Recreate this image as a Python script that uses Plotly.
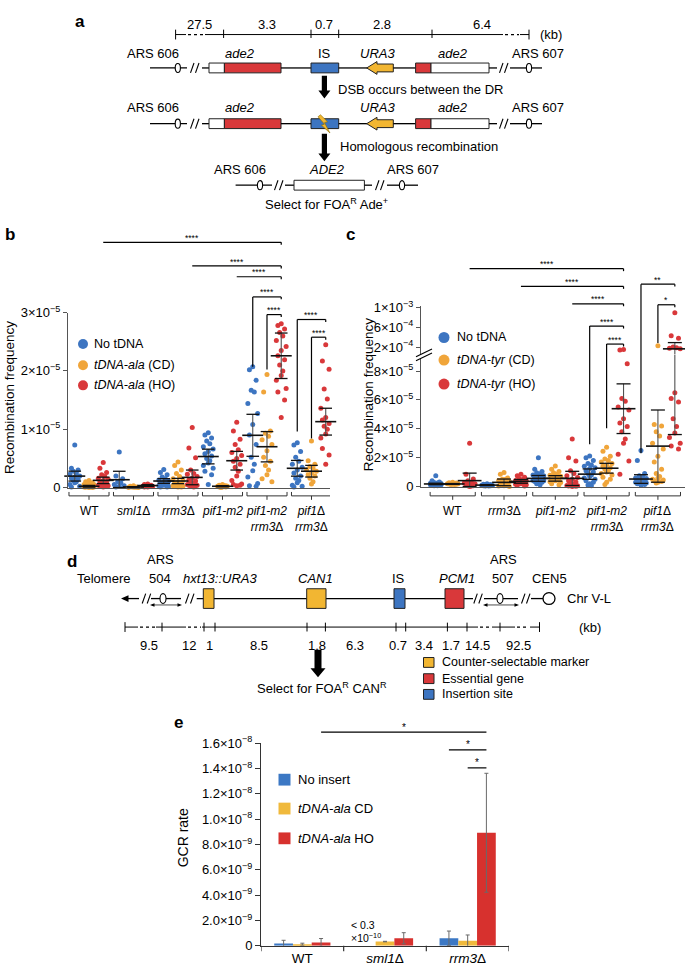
import plotly.graph_objects as go

# ======================= DATA =======================
# Panel b: recombination frequency (units of 1e-6), one list per genotype group
B_GROUPS = ["WT", "<i>sml1</i>Δ", "<i>rrm3</i>Δ", "<i>pif1-m2</i>",
            "<i>pif1-m2</i><br><i>rrm3</i>Δ", "<i>pif1</i>Δ<br><i>rrm3</i>Δ"]
B_SERIES = ["No tDNA", "<i>tDNA-ala</i> (CD)", "<i>tDNA-ala</i> (HO)"]
b_no = [
    [7.3, 3.3, 3.0, 2.8, 2.5, 2.3, 2.0, 1.8, 1.6, 1.4, 1.2, 1.0, 0.8, 0.5, 0.2, 0.1],
    [6.1, 2.0, 1.5, 1.0, 0.8, 0.5, 0.3, 0.2, 0.1],
    [3.1, 2.6, 2.2, 1.8, 1.5, 1.3, 1.1, 1.0, 0.8, 0.7, 0.6, 0.5, 0.4, 0.3, 0.2, 0.1, 0.1],
    [9.4, 9.0, 8.5, 8.0, 7.5, 7.0, 6.6, 6.2, 5.8, 5.4, 5.0, 4.6, 4.2, 3.8, 3.3, 2.8, 2.2, 0.5],
    [20.7, 20.2, 18.4, 16.7, 16.4, 14.4, 12.7, 10.8, 9.0, 7.4, 5.2, 4.0, 2.9, 1.8, 0.7, 0.3, 0.2],
    [7.7, 7.3, 6.2, 5.2, 4.5, 4.0, 3.5, 3.0, 2.5, 2.0, 1.6, 1.2, 0.8, 0.4, 0.2, 0.1],
]
b_cd = [
    [1.2, 1.0, 0.8, 0.7, 0.6, 0.5, 0.5, 0.4, 0.3, 0.3, 0.3, 0.2, 0.2, 0.1, 0.1, 0.05, 0.0, 0.0],
    [0.3, 0.2, 0.1, 0.1, 0.05, 0.0, 0.0, 0.1],
    [4.4, 3.8, 3.0, 2.4, 1.9, 1.5, 1.2, 1.0, 0.8, 0.6, 0.5, 0.4, 0.3, 0.3, 0.2, 0.2, 0.1, 0.1],
    [0.5, 0.4, 0.3, 0.3, 0.2, 0.2, 0.2, 0.1, 0.1, 0.1, 0.0, 0.3],
    [19.4, 16.4, 9.7, 9.3, 8.8, 8.2, 7.4, 6.3, 5.2, 4.5, 3.8, 3.0, 2.2, 1.5, 1.0],
    [8.0, 4.6, 4.0, 3.6, 3.3, 3.0, 2.8, 2.5, 2.2, 2.0, 1.6, 1.0, 0.6],
]
b_ho = [
    [4.3, 3.3, 2.6, 2.2, 1.9, 1.6, 1.4, 1.2, 1.0, 0.8, 0.6, 0.5, 0.5, 0.4, 0.3, 0.3, 0.2, 0.1],
    [0.6, 0.5, 0.4, 0.3, 0.3, 0.2, 0.2, 0.1, 0.1],
    [10.3, 6.8, 5.1, 3.0, 2.4, 2.3, 1.9, 1.6, 1.3, 1.1, 0.9, 0.7, 0.6, 0.5, 0.4, 0.4, 0.3, 0.2, 0.2, 0.1],
    [11.2, 9.7, 8.3, 7.4, 6.5, 6.0, 5.5, 5.0, 4.5, 4.0, 3.5, 2.8, 2.0, 1.2, 0.6, 0.5, 0.4, 0.3],
    [28.1, 27.8, 27.2, 26.6, 26.0, 25.2, 24.2, 23.5, 22.6, 21.9, 21.0, 20.0, 19.2, 18.4, 17.0, 16.4, 15.0, 12.0],
    [24.5, 21.7, 20.3, 16.9, 15.2, 13.6, 12.8, 12.0, 11.6, 11.0, 10.5, 10.0, 9.2, 8.5, 7.5, 6.7, 5.6, 4.0],
]
b_mean_no = [1.96, 1.34, 1.12, 5.32, 8.96, 3.3]
b_err_no = [0.85, 1.45, 0.4, 1.26, 3.6, 1.35]
b_mean_cd = [0.22, 0.10, 1.12, 0.22, 7.0, 2.8]
b_err_cd = [0.15, 0.05, 0.45, 0.1, 2.6, 1.0]
b_mean_ho = [1.23, 0.34, 1.74, 4.6, 22.6, 11.3]
b_err_ho = [0.55, 0.15, 1.26, 1.6, 3.9, 2.3]

# Panel c: recombination frequency (units of 1e-6)
C_GROUPS = ["WT", "<i>rrm3</i>Δ", "<i>pif1-m2</i>",
            "<i>pif1-m2</i><br><i>rrm3</i>Δ", "<i>pif1</i>Δ<br><i>rrm3</i>Δ"]
C_SERIES = ["No tDNA", "<i>tDNA-tyr</i> (CD)", "<i>tDNA-tyr</i> (HO)"]
c_no = [
    [7.5, 4.0, 3.2, 2.8, 2.5, 2.3, 2.1, 2.0, 1.8, 1.7, 1.6, 1.5, 1.4, 1.3, 1.2, 1.0, 0.9, 0.8, 0.6, 0.5],
    [2.0, 1.6, 1.4, 1.2, 1.0, 0.9, 0.8, 0.7, 0.6, 0.5, 0.4, 0.3],
    [20.0, 12.0, 10.5, 9.5, 8.8, 8.0, 7.5, 7.0, 6.5, 6.0, 5.6, 5.2, 4.8, 4.4, 4.0, 3.5, 3.0, 2.5, 2.0, 1.2],
    [21.1, 20.0, 18.0, 16.0, 15.0, 14.0, 13.0, 12.5, 11.0, 10.0, 9.0, 8.0, 7.0, 6.0, 5.0, 4.0, 3.0, 2.0, 1.0, 0.5],
    [25.0, 18.0, 9.0, 7.5, 6.5, 6.0, 5.5, 5.0, 4.5, 4.2, 4.0, 3.8, 3.5, 3.0, 2.5, 2.0, 1.5, 1.0],
]
c_cd = [
    [3.0, 2.6, 2.4, 2.2, 2.1, 2.0, 1.9, 1.8, 1.7, 1.6, 1.5, 1.4],
    [9.8, 8.6, 6.0, 5.0, 5.0, 4.2, 3.5, 3.0, 2.5, 2.0, 1.5, 1.0, 0.6, 0.3, 0.1],
    [14.3, 12.0, 10.5, 9.5, 8.5, 7.8, 7.2, 6.6, 6.0, 5.5, 5.0, 4.5, 4.0, 3.4, 2.8, 2.0, 1.2],
    [27.2, 24.5, 21.0, 19.0, 18.0, 17.0, 16.0, 15.0, 14.0, 13.0, 12.0, 11.0, 10.0, 9.0, 8.0, 6.5, 5.0, 3.0, 1.5],
    [226.0, 43.0, 42.0, 38.0, 35.0, 30.0, 26.0, 21.0, 17.0, 12.0, 9.0, 7.0, 6.0, 5.0, 4.5, 4.0, 3.5, 3.0, 2.5],
]
c_ho = [
    [30.0, 8.6, 5.2, 4.0, 3.0, 2.5, 2.0, 1.5, 1.2, 0.6, 0.5, 0.3, 0.1],
    [8.6, 7.5, 6.4, 5.5, 4.8, 4.2, 4.0, 3.6, 3.2, 3.0, 2.8, 2.4, 2.0, 1.6, 1.2, 0.8, 0.4],
    [33.0, 20.0, 17.7, 11.0, 9.0, 7.5, 6.2, 5.0, 4.0, 3.2, 2.5, 1.8, 1.2, 0.8, 0.5, 0.3, 0.2, 0.1],
    [150.0, 140.0, 85.0, 61.0, 59.0, 55.0, 53.0, 47.0, 44.0, 41.5, 38.0, 33.0, 30.0, 22.4, 17.7, 8.6],
    [900.0, 430.0, 380.0, 200.0, 185.0, 175.0, 165.0, 65.0, 61.0, 58.5, 47.0, 41.5, 37.0, 34.0, 30.0, 28.0, 26.0],
]
c_mean_no = [1.8, 1.0, 5.65, 8.6, 5.2]
c_err_no = [0.5, 0.3, 2.0, 3.6, 3.0]
c_mean_cd = [1.8, 2.9, 5.65, 12.7, 28.0]
c_err_cd = [0.3, 2.3, 1.9, 3.4, 25.0]
c_mean_ho = [4.1, 3.6, 5.65, 53.9, 163.0]
c_err_ho = [5.2, 1.3, 4.9, 17.2, 127.0]

# Panel e: GCR rate (units of 1e-9)
E_GROUPS = ["WT", "<i>sml1</i>Δ", "<i>rrm3</i>Δ"]
E_SERIES = ["No insert", "<i>tDNA-ala</i> CD", "<i>tDNA-ala</i> HO"]
e_no = [0.18, None, 0.59]
e_no_err = [0.25, 0.0, 0.57]
e_cd = [0.12, 0.33, 0.39]
e_cd_err = [0.08, 0.02, 0.46]
e_ho = [0.26, 0.59, 8.93]
e_ho_err = [0.31, 0.44, 4.70]

# ======================= STYLE / HELPERS =======================
W, H = 685, 978
FONT = "Liberation Sans, Arial, Helvetica, sans-serif"
BLUE = "#3D75C1"
ORANGE = "#F0A53A"
RED = "#D9383A"
YEL = "#F2B632"
BAR_COL = ["#3C78C4", "#F0B93C", "#D7312E"]
U6 = 1e-6
U9 = 1e-9

def X(px):
    return px / W

def Y(py):
    return 1 - py / H

shapes, ann = [], []

def L(x0, y0, x1, y1, w=1.3, c="black", dash="solid", xref="paper"):
    if xref == "paper":
        x0, x1 = X(x0), X(x1)
    shapes.append(dict(type="line", xref=xref, yref="paper", x0=x0, y0=Y(y0), x1=x1, y1=Y(y1),
                       line=dict(color=c, width=w, dash=dash)))

def R(x0, y0, x1, y1, fill, lw=1, lc="#222"):
    shapes.append(dict(type="rect", xref="paper", yref="paper", x0=X(x0), y0=Y(y0), x1=X(x1), y1=Y(y1),
                       fillcolor=fill, line=dict(color=lc, width=lw)))

def E(cx, cy, rx, ry, fill="white", lw=1.1):
    shapes.append(dict(type="circle", xref="paper", yref="paper", x0=X(cx - rx), y0=Y(cy + ry),
                       x1=X(cx + rx), y1=Y(cy - ry), fillcolor=fill, line=dict(color="black", width=lw)))

def P(pts, fill, lw=1, lc="#222"):
    d = "M " + " L ".join(f"{X(x):.5f},{Y(y):.5f}" for x, y in pts) + " Z"
    shapes.append(dict(type="path", xref="paper", yref="paper", path=d, fillcolor=fill,
                       line=dict(color=lc, width=lw)))

def T(x, y, s, size=13, xa="center", ya="middle", bold=False, angle=0, xref="paper", color="black"):
    if bold:
        s = f"<b>{s}</b>"
    ann.append(dict(x=X(x) if xref == "paper" else x, y=Y(y), text=s, showarrow=False,
                    xref=xref, yref="paper", xanchor=xa, yanchor=ya, textangle=angle,
                    font=dict(size=size, color=color, family=FONT)))

def slash(cx, cy, h=5):
    L(cx - 4.5, cy + h, cx - 1, cy - h, w=1.1)
    L(cx + 0.5, cy + h, cx + 4, cy - h, w=1.1)

def big_arrow(x, y0, y1, sw=2.6, hw=6, hl=8):
    P([(x - sw, y0), (x + sw, y0), (x + sw, y1 - hl), (x + hw, y1 - hl), (x, y1),
       (x - hw, y1 - hl), (x - sw, y1 - hl)], "black", lw=0)

# ======================= PANEL a (schematic) =======================
T(80, 13, "a", size=17, bold=True)
ya = 26
L(175.6, ya, 186, ya, w=1)
L(188, ya, 204, ya, w=1.2, dash="dot")
L(205, ya, 503, ya, w=1)
L(505, ya, 519, ya, w=1.2, dash="dot")
L(520, ya, 529, ya, w=1)
for tx in [175.6, 529]:
    L(tx, ya - 5, tx, ya + 5, w=1)
for tx in [223.6, 311, 338.7, 432]:
    L(tx, ya - 5, tx, ya + 3.5, w=1)
for lbl, tx in [("27.5", 200), ("3.3", 266.7), ("0.7", 324.4), ("2.8", 382), ("6.4", 482)]:
    T(tx, 15.5, lbl)
T(551, ya, "(kb)")

def row_a(y, bolt=False):
    L(150, y, 187, y)
    E(177.8, y, 2.6, 4.6)
    slash(195, y)
    L(202, y, 209, y)
    R(209, y - 5, 224.4, y + 5, "white")
    R(224.4, y - 5, 281, y + 5, RED)
    L(281, y, 311, y)
    R(311, y - 5, 338.7, y + 5, BLUE)
    L(338.7, y, 367, y)
    P([(366.7, y), (377, y - 6.5), (377, y - 4), (393.3, y - 4), (393.3, y + 4), (377, y + 4), (377, y + 6.5)], YEL)
    L(393.3, y, 415.6, y)
    R(415.6, y - 5, 431, y + 5, RED)
    R(431, y - 5, 489, y + 5, "white")
    L(489, y, 497, y)
    slash(504, y)
    L(510, y, 542, y)
    E(529, y, 2.6, 4.6)
    if bolt:
        P([(320.5, y - 9), (327.5, y - 2), (324.5, y - 1), (330, y + 9.5), (321.5, y + 1.5), (324.5, y + 0.5), (318, y - 7)],
          YEL, lw=0.6, lc="#8a6d00")

y1a, y2a, y3a = 60, 116.7, 179.3
row_a(y1a)
row_a(y2a, bolt=True)
for (lbl, tx, it) in [("ARS 606", 153, False), ("ade2", 240, True), ("IS", 324.4, False),
                      ("URA3", 377.8, True), ("ade2", 453, True), ("ARS 607", 538, False)]:
    T(tx, 45.5, f"<i>{lbl}</i>" if it else lbl)
for (lbl, tx, it) in [("ARS 606", 153, False), ("ade2", 240, True),
                      ("URA3", 377.8, True), ("ade2", 453, True), ("ARS 607", 538, False)]:
    T(tx, 100, f"<i>{lbl}</i>" if it else lbl)
big_arrow(324.4, 68, 91)
T(335.6, 81.5, "DSB occurs between the DR", xa="left")
big_arrow(324.4, 127, 155)
T(337.8, 140, "Homologous recombination", xa="left")
# row 3
L(235.6, y3a, 272, y3a)
E(260, y3a, 2.6, 4.6)
slash(279, y3a)
L(285, y3a, 294, y3a)
R(294, y3a - 5, 364.4, y3a + 5, "white")
L(364.4, y3a, 372, y3a)
slash(380, y3a)
L(387, y3a, 418, y3a)
E(402, y3a, 2.6, 4.6)
T(240, 163.3, "ARS 606")
T(326.7, 163.3, "<i>ADE2</i>")
T(413, 163.3, "ARS 607")
T(326.7, 198.5, "Select for FOA<sup>R</sup> Ade<sup>+</sup>")

# ======================= PANEL d (schematic) =======================
T(72, 562, "d", size=17, bold=True)
yd = 600
L(127, yd, 139, yd)
P([(121, yd), (128.5, yd - 3.5), (128.5, yd + 3.5)], "black", lw=0)
slash(146.7, yd)

def ars_d(cx, xl, xr):
    L(xl, yd, xr, yd)
    E(cx, yd, 3, 5)
    yy = yd + 6.5
    L(xl + 1, yy, xr - 1, yy, w=0.7)
    P([(xl - 1, yy), (xl + 3.5, yy - 1.8), (xl + 3.5, yy + 1.8)], "black", lw=0)
    P([(xr + 1, yy), (xr - 3.5, yy - 1.8), (xr - 3.5, yy + 1.8)], "black", lw=0)

ars_d(163, 151, 181)
slash(190, yd)
L(196.7, yd, 473, yd)
R(203.3, yd - 10, 214, yd + 10, YEL)
R(306.7, yd - 10, 326, yd + 10, YEL)
R(394, yd - 10, 405, yd + 10, BLUE)
R(445, yd - 10, 464, yd + 10, RED)
slash(478.3, yd)
ars_d(500, 484, 518)
slash(526, yd)
L(531, yd, 543, yd)
E(549, yd, 6, 6, lw=1.3)
T(565, yd, "Chr V-L", xa="left")
T(160, 560, "ARS")
T(503, 560, "ARS")
for (lbl, tx, it) in [("Telomere", 103, False), ("504", 160, False), ("hxt13::URA3", 220, True),
                      ("CAN1", 315, True), ("IS", 398, False), ("PCM1", 457, True),
                      ("507", 503, False), ("CEN5", 549, False)]:
    T(tx, 580, f"<i>{lbl}</i>" if it else lbl)
ys = 629
for a0, a1, dsh in [(125, 138, "solid"), (140, 155, "dot"), (156, 186, "solid"), (188, 201, "dot"),
                    (202, 478, "solid"), (480, 491, "dot"), (492, 515, "solid"), (517, 529, "dot"),
                    (530, 539.5, "solid")]:
    L(a0, ys, a1, ys, w=1.2 if dsh == "dot" else 1, dash=dsh)
for tx in [125, 539.5]:
    L(tx, ys - 5, tx, ys + 5, w=1)
for tx in [162, 204, 215, 307, 325.4, 396, 405.7, 447.4, 467, 500]:
    L(tx, ys - 4.5, tx, ys + 4.5, w=1)
T(577, ys, "(kb)", xa="left")
for lbl, tx in [("9.5", 149), ("12", 189), ("1", 209), ("8.5", 259), ("1.8", 317), ("6.3", 355),
                ("0.7", 398), ("3.4", 424), ("1.7", 451), ("14.5", 477), ("92.5", 518)]:
    T(tx, 648, lbl)
big_arrow(318, 652, 680, sw=3.5, hw=7.5, hl=9)
T(322, 691, "Select for FOA<sup>R</sup> CAN<sup>R</sup>")
for (lbl, col, yy) in [("Counter-selectable marker", YEL, 665), ("Essential gene", RED, 681.5),
                       ("Insertion site", BLUE, 697.5)]:
    R(423.5, yy - 5, 434, yy + 5, col)
    T(440, yy, lbl, size=12.5, xa="left")

# ======================= FIGURE / TRACES =======================
fig = go.Figure()

JIT = [0.0, -0.075, 0.075, -0.035, 0.035, -0.11, 0.11, 0.0, -0.075, 0.075,
       -0.035, 0.035, 0.0, -0.11, 0.11, -0.075, 0.075, 0.0, -0.035, 0.035]
COLS = [BLUE, ORANGE, RED]

# ---- panel b ----
OFF_B = [-0.32, 0.0, 0.32]
for s, series in enumerate([b_no, b_cd, b_ho]):
    xs, ys_ = [], []
    for g, vals in enumerate(series):
        for i, v in enumerate(vals):
            xs.append(g + OFF_B[s] + JIT[i % len(JIT)])
            ys_.append(v * U6)
    fig.add_trace(go.Scatter(x=xs, y=ys_, mode="markers", marker=dict(size=5, color=COLS[s]),
                             xaxis="x", yaxis="y", cliponaxis=False, showlegend=False, hoverinfo="skip"))


def summary(xs, means, errs, xa, ya_lo, ya_hi=None, brk=None, up_min=None, mw=16, cw=9):
    seg = {ya_lo: ([], []), ya_hi: ([], [])}
    caps = {ya_lo: ([], []), ya_hi: ([], [])}
    mids = {ya_lo: ([], []), ya_hi: ([], [])}

    def ax(v):
        return ya_hi if (ya_hi is not None and v > brk) else ya_lo
    for x, m, e in zip(xs, means, errs):
        lo, hi = max(m - e, 0.0), m + e
        if ya_hi is None or hi <= brk:
            seg[ya_lo][0].extend([x, x, None]); seg[ya_lo][1].extend([lo, hi, None])
        elif lo > brk:
            seg[ya_hi][0].extend([x, x, None]); seg[ya_hi][1].extend([lo, hi, None])
        else:
            seg[ya_lo][0].extend([x, x, None]); seg[ya_lo][1].extend([lo, brk, None])
            seg[ya_hi][0].extend([x, x, None]); seg[ya_hi][1].extend([up_min, hi, None])
        for v in (lo, hi):
            caps[ax(v)][0].append(x); caps[ax(v)][1].append(v)
        mids[ax(m)][0].append(x); mids[ax(m)][1].append(m)
    for yax in [ya_lo, ya_hi]:
        if yax is None:
            continue
        if seg[yax][0]:
            fig.add_trace(go.Scatter(x=seg[yax][0], y=seg[yax][1], mode="lines",
                                     line=dict(color="#505050", width=1.1), xaxis=xa, yaxis=yax,
                                     cliponaxis=False, showlegend=False, hoverinfo="skip"))
        if caps[yax][0]:
            fig.add_trace(go.Scatter(x=caps[yax][0], y=caps[yax][1], mode="markers",
                                     marker=dict(symbol="line-ew", size=cw, line=dict(width=1.3, color="#111")),
                                     xaxis=xa, yaxis=yax, cliponaxis=False, showlegend=False, hoverinfo="skip"))
        if mids[yax][0]:
            fig.add_trace(go.Scatter(x=mids[yax][0], y=mids[yax][1], mode="markers",
                                     marker=dict(symbol="line-ew", size=mw, line=dict(width=1.6, color="#111")),
                                     xaxis=xa, yaxis=yax, cliponaxis=False, showlegend=False, hoverinfo="skip"))


for s, (mn, er) in enumerate([(b_mean_no, b_err_no), (b_mean_cd, b_err_cd), (b_mean_ho, b_err_ho)]):
    summary([g + OFF_B[s] for g in range(len(mn))], [v * U6 for v in mn], [v * U6 for v in er],
            "x", "y", mw=15, cw=9)

# ---- panel c (broken axis: y2 lower, y4 upper) ----
OFF_C = [-0.33, 0.0, 0.33]
C_LO_TOP = 9.15e-5
C_UP_MIN = 5e-5
for s, series in enumerate([c_no, c_cd, c_ho]):
    lx, ly, ux, uy = [], [], [], []
    for g, vals in enumerate(series):
        for i, v in enumerate(vals):
            xx = g + OFF_C[s] + 0.95 * JIT[i % len(JIT)]
            if v * U6 > C_LO_TOP:
                ux.append(xx); uy.append(v * U6)
            else:
                lx.append(xx); ly.append(v * U6)
    fig.add_trace(go.Scatter(x=lx, y=ly, mode="markers", marker=dict(size=5, color=COLS[s]),
                             xaxis="x2", yaxis="y2", cliponaxis=False, showlegend=False, hoverinfo="skip"))
    if ux:
        fig.add_trace(go.Scatter(x=ux, y=uy, mode="markers", marker=dict(size=5, color=COLS[s]),
                                 xaxis="x2", yaxis="y4", cliponaxis=False, showlegend=False, hoverinfo="skip"))
for s, (mn, er) in enumerate([(c_mean_no, c_err_no), (c_mean_cd, c_err_cd), (c_mean_ho, c_err_ho)]):
    summary([g + OFF_C[s] for g in range(len(mn))], [v * U6 for v in mn], [v * U6 for v in er],
            "x2", "y2", "y4", brk=C_LO_TOP, up_min=C_UP_MIN, mw=17, cw=10)

# ---- panel e (bars) ----
for s, (vals, errs) in enumerate([(e_no, e_no_err), (e_cd, e_cd_err), (e_ho, e_ho_err)]):
    fig.add_trace(go.Bar(x=list(range(len(E_GROUPS))), y=[None if v is None else v * U9 for v in vals],
                         marker=dict(color=BAR_COL[s], line=dict(width=0)),
                         error_y=dict(type="data", array=[e * U9 for e in errs], thickness=1, width=2,
                                      color="#6a6a6a"),
                         xaxis="x3", yaxis="y3", showlegend=False, hoverinfo="skip"))

# ======================= AXES ANNOTATIONS (b) =======================
T(10, 229, "b", size=17, bold=True)
T(9, 396, "Recombination frequency", size=13.5, angle=-90)
for g, lbl in enumerate(B_GROUPS):
    T(g, 502, lbl, size=12, ya="top", xref="x")
    L(g - 0.45, 491.5, g - 0.45, 495.5, w=1, c="#333", xref="x")
    L(g - 0.45, 495.5, g + 0.45, 495.5, w=1, c="#333", xref="x")
    L(g + 0.45, 491.5, g + 0.45, 495.5, w=1, c="#333", xref="x")
    L(g, 495.5, g, 499.5, w=1, c="#333", xref="x")
for (lbl, col, yy) in zip(B_SERIES, COLS, [341, 362.5, 383]):
    shapes.append(dict(type="circle", xref="paper", yref="paper", xsizemode="pixel", ysizemode="pixel",
                       xanchor=X(83), yanchor=Y(yy), x0=-5, x1=5, y0=-5, y1=5, fillcolor=col,
                       line=dict(width=0)))
    T(92, yy, lbl, size=12.5, xa="left")
# significance b: (x_left, x_right, y_line, drop_to, label)
for x0, x1, yl, drop, lbl in [(0.32, 4.32, 237.5, None, "****"), (2.32, 4.32, 261.5, None, "****"),
                               (3.32, 4.32, 272.5, None, "****"), (3.68, 4.32, 293, 364, "****"),
                               (4.0, 4.32, 311, 367, "****"), (4.68, 5.32, 316, 430, "****"),
                               (5.0, 5.32, 334, 437, "****")]:
    L(x0, yl, x1, yl, w=1.2, xref="x")
    L(x1, yl, x1, yl + 2.5, w=1.2, xref="x")
    if drop:
        L(x0, yl, x0, drop, w=1.2, xref="x")
    T((x0 + x1) / 2, yl - 4.5, lbl, size=8.5, xref="x")

# ======================= AXES ANNOTATIONS (c) =======================
T(350, 229, "c", size=17, bold=True)
T(368, 393, "Recombination frequency", size=13.5, angle=-90)
for g, lbl in enumerate(C_GROUPS):
    T(g, 502, lbl, size=12, ya="top", xref="x2")
    L(g - 0.44, 491.5, g - 0.44, 495.5, w=1, c="#333", xref="x2")
    L(g - 0.44, 495.5, g + 0.44, 495.5, w=1, c="#333", xref="x2")
    L(g + 0.44, 491.5, g + 0.44, 495.5, w=1, c="#333", xref="x2")
    L(g, 495.5, g, 499.5, w=1, c="#333", xref="x2")
for (lbl, col, yy) in zip(C_SERIES, COLS, [334.3, 357.3, 381.7]):
    shapes.append(dict(type="circle", xref="paper", yref="paper", xsizemode="pixel", ysizemode="pixel",
                       xanchor=X(444), yanchor=Y(yy), x0=-5.5, x1=5.5, y0=-5.5, y1=5.5, fillcolor=col,
                       line=dict(width=0)))
    T(455, yy, lbl, size=12.5, xa="left")
for x0, x1, yl, drop, lbl in [(0.33, 3.33, 264.3, None, "****"), (1.33, 3.33, 282.3, None, "****"),
                               (2.33, 3.33, 300, None, "****"), (2.67, 3.33, 322.7, 443, "****"),
                               (3.0, 3.33, 341, 426.7, "****"), (3.67, 4.33, 280, 452, "**"),
                               (4.0, 4.33, 301, 340, "*")]:
    L(x0, yl, x1, yl, w=1.2, xref="x2")
    L(x1, yl, x1, yl + 2.5, w=1.2, xref="x2")
    if drop:
        L(x0, yl, x0, drop, w=1.2, xref="x2")
    T((x0 + x1) / 2, yl - 4.5, lbl, size=8.5, xref="x2")
# axis break marks
P([(416, 354), (432, 346), (432, 350), (416, 358)], "white", lw=0)
L(416, 354, 432, 346, w=1.1)
L(416, 358, 432, 350, w=1.1)

# ======================= AXES ANNOTATIONS (e) =======================
T(178, 726, "e", size=17, bold=True)
T(183, 843, "GCR rate", size=14, angle=-90)
for u in [-0.5, 0.5, 1.5, 2.5]:
    L(u, 953.3, u, 959, w=1.2, c="#333", xref="x3")
for (lbl, col, yy) in zip(E_SERIES, BAR_COL, [784.3, 813.7, 844]):
    R(278.5, yy - 6, 290.5, yy + 6, col, lw=0)
    T(296, yy, lbl, size=13, xa="left")
T(349, 932, "< 0.3", size=10.5, xa="left")
T(349, 945, "×10<sup>−10</sup>", size=10.5, xa="left")
for x0, x1, yl in [(0.227, 2.227, 736), (1.773, 2.227, 754), (2.0, 2.227, 772.3)]:
    L(x0, yl, x1, yl, w=1.2, xref="x3")
    T((x0 + x1) / 2, yl - 5, "*", size=10, xref="x3")

# ======================= LAYOUT =======================
axis_common = dict(showgrid=False, zeroline=False, linecolor="#555", linewidth=1,
                   tickfont=dict(family=FONT, size=13, color="black"))
sup = lambda m, e: f"{m}×10<sup>−{e}</sup>"

fig.update_layout(
    width=W, height=H, margin=dict(l=0, r=0, t=0, b=0),
    paper_bgcolor="white", plot_bgcolor="rgba(0,0,0,0)",
    font=dict(family=FONT, color="black"),
    barmode="group", bargap=0.32, bargroupgap=0.0,
    shapes=shapes, annotations=ann,
    xaxis=dict(domain=[X(68), X(330)], range=[-0.472, 5.416], showline=True, ticks="",
               showticklabels=False, anchor="y", **axis_common),
    yaxis=dict(domain=[Y(487), Y(309)], range=[0, 3e-5], showline=True, ticks="outside", ticklen=4,
               tickcolor="#555", tickvals=[0, 1e-5, 2e-5, 3e-5],
               ticktext=["0", sup(1, 5), sup(2, 5), sup(3, 5)], anchor="x", **axis_common),
    xaxis2=dict(domain=[X(421), 1.0], range=[-0.618, 4.528], showline=True, ticks="",
                showticklabels=False, anchor="y2", **axis_common),
    yaxis2=dict(domain=[Y(486), Y(351.5)], range=[0, C_LO_TOP], showline=True, ticks="outside", ticklen=4,
                tickcolor="#555", tickvals=[0, 2e-5, 4e-5, 6e-5, 8e-5],
                ticktext=["0", sup(2, 5), sup(4, 5), sup(6, 5), sup(8, 5)], anchor="x2", **axis_common),
    yaxis4=dict(domain=[Y(351.5), Y(302)], range=[C_UP_MIN, 1.04e-3], showline=True, ticks="outside",
                ticklen=4, tickcolor="#555", tickvals=[2e-4, 6e-4, 1e-3],
                ticktext=[sup(2, 4), sup(6, 4), sup(1, 3)], anchor="x2", **axis_common),
    xaxis3=dict(domain=[X(261), X(509)], range=[-0.5, 2.5], showline=True, ticks="",
                tickvals=[0, 1, 2], ticktext=E_GROUPS, anchor="y3",
                **{**axis_common, "linecolor": "#333", "tickfont": dict(family=FONT, size=13.5, color="black")}),
    yaxis3=dict(domain=[Y(953.3), Y(747.3)], range=[0, 1.6e-8], showline=True, ticks="outside", ticklen=5,
                tickcolor="#333", tickvals=[i * 2e-9 for i in range(9)],
                ticktext=["0"] + [sup(f"{v:.1f}", 9) for v in (2, 4, 6, 8)] +
                         [sup(f"{v:.1f}", 8) for v in (1.0, 1.2, 1.4, 1.6)],
                anchor="x3", **{**axis_common, "linecolor": "#333"}),
)

fig.write_html("out.html", config={"displayModeBar": False},
               post_script="document.body.style.margin='0px';document.body.style.overflow='hidden';")
